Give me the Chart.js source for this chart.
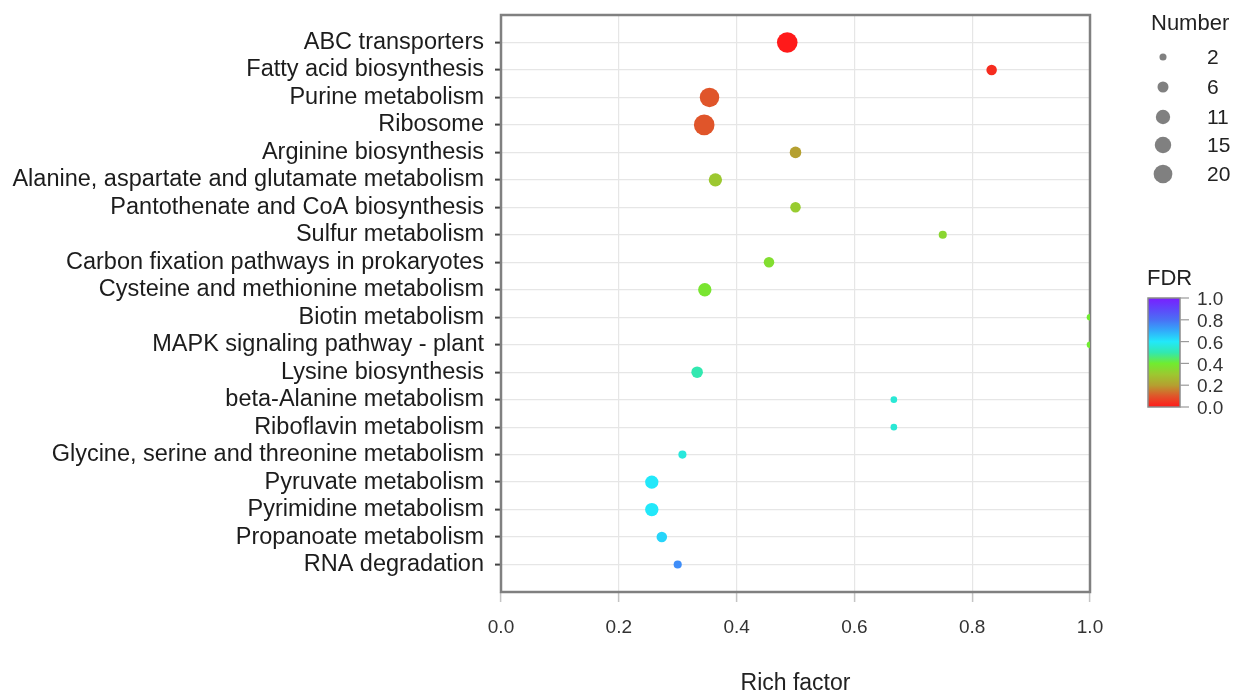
<!DOCTYPE html>
<html>
<head>
<meta charset="utf-8">
<script src="https://cdn.jsdelivr.net/npm/chart.js@4.4.1/dist/chart.umd.min.js"></script>
<style>
html,body{margin:0;padding:0;background:#ffffff;}
#wrap{width:1242px;height:695px;position:relative;}
</style>
</head>
<body>
<div id="wrap"><canvas id="c" width="1242" height="695"></canvas></div>
<script>
// ---------------- data ----------------
const categories = [
  "ABC transporters",
  "Fatty acid biosynthesis",
  "Purine metabolism",
  "Ribosome",
  "Arginine biosynthesis",
  "Alanine, aspartate and glutamate metabolism",
  "Pantothenate and CoA biosynthesis",
  "Sulfur metabolism",
  "Carbon fixation pathways in prokaryotes",
  "Cysteine and methionine metabolism",
  "Biotin metabolism",
  "MAPK signaling pathway - plant",
  "Lysine biosynthesis",
  "beta-Alanine metabolism",
  "Riboflavin metabolism",
  "Glycine, serine and threonine metabolism",
  "Pyruvate metabolism",
  "Pyrimidine metabolism",
  "Propanoate metabolism",
  "RNA degradation"
];
const richFactor = [0.486, 0.833, 0.354, 0.345, 0.500, 0.364, 0.500, 0.750, 0.455, 0.346,
                    1.000, 1.000, 0.333, 0.667, 0.667, 0.308, 0.256, 0.256, 0.273, 0.300];
const geneNumber = [19, 5, 17, 19, 6, 8, 5, 3, 5, 8,
                    2, 2, 6, 2, 2, 3, 8, 8, 5, 3];
const fdr = [0.00, 0.03, 0.10, 0.10, 0.20, 0.30, 0.31, 0.34, 0.36, 0.38,
             0.40, 0.40, 0.50, 0.55, 0.55, 0.56, 0.60, 0.60, 0.63, 0.75];
const xTicks = [0.0, 0.2, 0.4, 0.6, 0.8, 1.0];
const sizeLegendValues = [2, 6, 11, 15, 20];
const fdrLegendTicks = [0.0, 0.2, 0.4, 0.6, 0.8, 1.0];

// ---------------- styles ----------------
const FONT = "'Liberation Sans', Arial, sans-serif";
const colorStops = [
  [0.0, [255, 26, 26]],
  [0.1, [224, 85, 42]],
  [0.2, [181, 160, 48]],
  [0.3, [156, 200, 48]],
  [0.4, [112, 236, 48]],
  [0.5, [50, 232, 176]],
  [0.6, [34, 232, 250]],
  [0.7, [50, 170, 250]],
  [0.8, [74, 112, 245]],
  [0.9, [95, 70, 250]],
  [1.0, [122, 30, 255]]
];
function fdrColor(v) {
  v = Math.max(0, Math.min(1, v));
  for (let i = 0; i < colorStops.length - 1; i++) {
    const [a, ca] = colorStops[i], [b, cb] = colorStops[i + 1];
    if (v <= b) {
      const t = (v - a) / (b - a);
      const c = ca.map((x, k) => Math.round(x + (cb[k] - x) * t));
      return `rgb(${c[0]},${c[1]},${c[2]})`;
    }
  }
  const c = colorStops[colorStops.length - 1][1];
  return `rgb(${c[0]},${c[1]},${c[2]})`;
}
function radiusFor(n) { return Math.sqrt(5.6 * n - 0.3); }
function legendRadiusFor(n) { return radiusFor(n) * 0.8 + 0.9; }

// ---------------- plugins ----------------
const frame = {
  id: 'frame',
  beforeDatasetsDraw(chart) {
    const a = chart.chartArea, ctx = chart.ctx;
    ctx.save();
    ctx.strokeStyle = '#808080';
    ctx.lineWidth = 2.5;
    ctx.strokeRect(a.left, a.top, a.right - a.left, a.bottom - a.top);
    ctx.restore();
  }
};

const legends = {
  id: 'legends',
  afterDraw(chart) {
    const ctx = chart.ctx;
    ctx.save();
    // size legend
    ctx.fillStyle = '#222';
    ctx.font = `22px ${FONT}`;
    ctx.textAlign = 'left';
    ctx.textBaseline = 'middle';
    ctx.fillText('Number', 1151, 24);
    const ys = [57, 87, 117, 145, 174];
    sizeLegendValues.forEach((n, i) => {
      ctx.beginPath();
      ctx.fillStyle = '#808080';
      ctx.arc(1163, ys[i], legendRadiusFor(n), 0, Math.PI * 2);
      ctx.fill();
      ctx.fillStyle = '#222';
      ctx.font = `21px ${FONT}`;
      ctx.fillText(String(n), 1207, ys[i] + 1);
    });
    // FDR colour bar
    ctx.font = `22px ${FONT}`;
    ctx.fillStyle = '#222';
    ctx.fillText('FDR', 1147, 279);
    const bx = 1148, bw = 32, by = 298, bh = 109;
    const g = ctx.createLinearGradient(0, by + bh, 0, by);
    colorStops.forEach(([p]) => g.addColorStop(p, fdrColor(p)));
    ctx.fillStyle = g;
    ctx.fillRect(bx, by, bw, bh);
    ctx.strokeStyle = '#8a8a8a';
    ctx.lineWidth = 1.5;
    ctx.strokeRect(bx, by, bw, bh);
    ctx.font = `19px ${FONT}`;
    fdrLegendTicks.forEach(v => {
      const y = by + bh - v * bh;
      ctx.beginPath();
      ctx.strokeStyle = '#9a9a9a';
      ctx.lineWidth = 1.2;
      ctx.moveTo(bx + bw, y);
      ctx.lineTo(bx + bw + 9, y);
      ctx.stroke();
      ctx.fillStyle = '#333';
      ctx.fillText(v.toFixed(1), 1197, y + 2);
    });
    ctx.restore();
  }
};

function noPad(s) { s.paddingTop = 0; s.paddingBottom = 0; s.paddingLeft = 0; s.paddingRight = 0; }

// ---------------- chart ----------------
const points = categories.map((c, i) => ({ x: richFactor[i], y: i + 1 }));

new Chart(document.getElementById('c'), {
  type: 'scatter',
  data: {
    datasets: [{
      data: points,
      pointRadius: ctx => radiusFor(geneNumber[ctx.dataIndex]),
      pointHoverRadius: ctx => radiusFor(geneNumber[ctx.dataIndex]),
      backgroundColor: ctx => fdrColor(fdr[ctx.dataIndex]),
      borderWidth: 0,
      pointBorderWidth: 0
    }]
  },
  options: {
    responsive: false,
    animation: false,
    events: [],
    layout: { padding: { top: 15, right: 152, bottom: 0, left: 0 } },
    plugins: { legend: { display: false }, tooltip: { enabled: false } },
    scales: {
      x: {
        type: 'linear',
        min: 0, max: 1,
        afterBuildTicks: s => { s.ticks = xTicks.map(v => ({ value: v })); },
        afterFit: s => { s.height = 103; noPad(s); },
        ticks: {
          callback: v => Number(v).toFixed(1),
          font: { family: FONT, size: 19 },
          color: '#333',
          padding: 14,
          maxRotation: 0
        },
        grid: { color: '#e6e6e6', lineWidth: 1.2, tickColor: '#c4c4c4', tickLength: 10, tickWidth: 1.5 },
        border: { display: false },
        title: {
          display: true,
          text: 'Rich factor',
          font: { family: FONT, size: 23, lineHeight: 1.0 },
          color: '#222',
          padding: { top: 0, bottom: 0 }
        }
      },
      y: {
        type: 'linear',
        reverse: true,
        min: 0, max: 21,
        afterBuildTicks: s => { s.ticks = categories.map((c, i) => ({ value: i + 1 })); },
        afterFit: s => { s.width = 501; noPad(s); },
        ticks: {
          autoSkip: false,
          callback: v => categories[v - 1],
          font: { family: FONT, size: 23.5 },
          color: '#1c1c1c',
          padding: 11
        },
        grid: { color: '#e6e6e6', lineWidth: 1.2, tickColor: '#444', tickLength: 6, tickWidth: 2 },
        border: { display: false }
      }
    }
  },
  plugins: [frame, legends]
});
</script>
</body>
</html>
